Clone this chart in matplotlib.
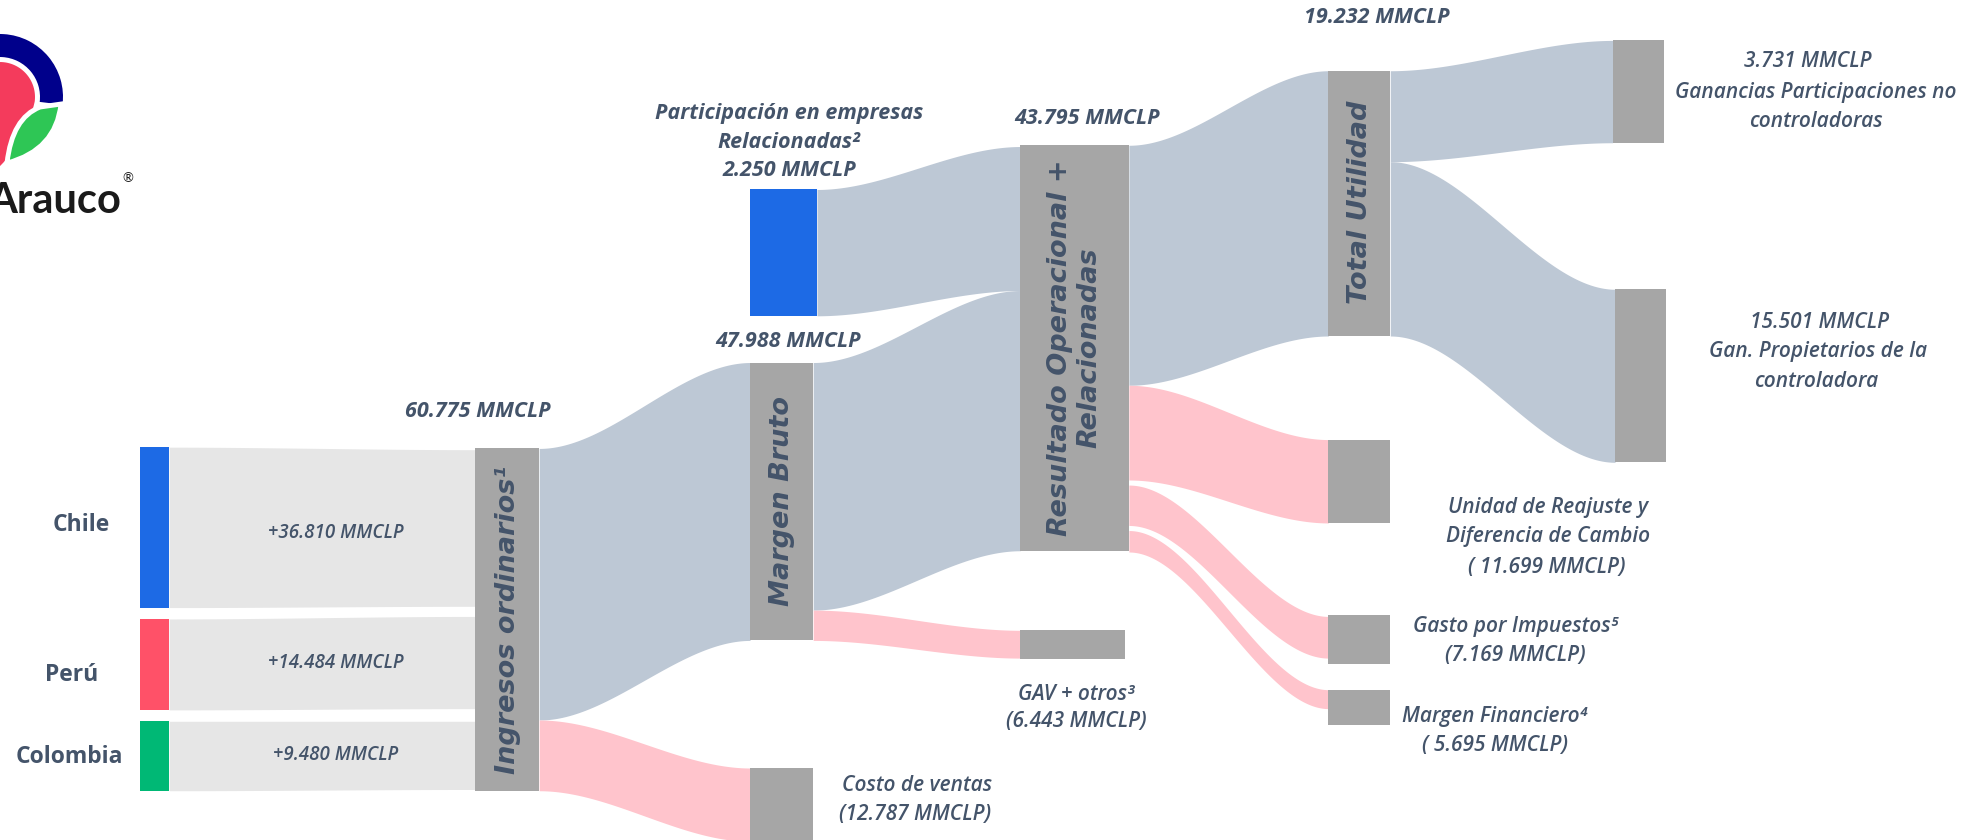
import matplotlib.pyplot as plt
import numpy as np
from matplotlib.patches import Rectangle, Wedge, PathPatch, Polygon
from matplotlib.path import Path

# ---------------- datos (MMCLP) ----------------
paises = ['Chile', 'Perú', 'Colombia']
ventas_pais = [36810, 14484, 9480]

nodos = ['Ingresos', 'Costo', 'Margen Bruto', 'GAV', 'Participación', 'Resultado',
         'Reajuste', 'Impuestos', 'Financiero', 'Total Utilidad',
         'No controladoras', 'Controladora']
valores = [60775, 12787, 47988, 6443, 2250, 43795,
           11699, 7169, 5695, 19232, 3731, 15501]

flujo_origen = ['Chile', 'Perú', 'Colombia', 'Ingresos', 'Ingresos',
                'Margen Bruto', 'Margen Bruto', 'Participación',
                'Resultado', 'Resultado', 'Resultado', 'Resultado',
                'Total Utilidad', 'Total Utilidad']
flujo_destino = ['Ingresos', 'Ingresos', 'Ingresos', 'Margen Bruto', 'Costo',
                 'Resultado', 'GAV', 'Resultado',
                 'Total Utilidad', 'Reajuste', 'Impuestos', 'Financiero',
                 'No controladoras', 'Controladora']
flujo_tipo = ['pais', 'pais', 'pais', 'gan', 'gasto',
              'gan', 'gasto', 'gan',
              'gan', 'gasto', 'gasto', 'gasto',
              'gan', 'gan']

valor = dict(zip(nodos, valores))
valor.update(zip(paises, ventas_pais))


def fmt(v):
    return f'{v:,}'.replace(',', '.')


# ---------------- estilo ----------------
TXT = '#44546A'
GRIS = '#A6A6A6'
COL_NODO = {'Chile': '#1D6AE5', 'Perú': '#FF5168', 'Colombia': '#00B875',
            'Participación': '#1D6AE5'}
COL_FLUJO = {'pais': '#E6E6E6', 'gan': '#BDC8D5', 'gasto': '#FFC4CC'}

# layout in px of a 1568x665 frame (y downwards): x0, x1, y0, y1
caja = {
    'Chile': (111, 134, 354, 481),
    'Perú': (111, 134, 490, 562),
    'Colombia': (111, 134, 571, 626),
    'Ingresos': (376, 427, 355, 626),
    'Participación': (594, 647, 150, 250),
    'Margen Bruto': (594, 644, 287, 507),
    'Costo': (594, 644, 608, 680),
    'Resultado': (808, 894, 115, 436),
    'GAV': (808, 891, 499, 522),
    'Total Utilidad': (1052, 1101, 56, 266),
    'Reajuste': (1052, 1101, 348, 414),
    'Impuestos': (1052, 1101, 487, 526),
    'Financiero': (1052, 1101, 546, 574),
    'No controladoras': (1277, 1318, 32, 113),
    'Controladora': (1279, 1319, 229, 366),
}
# band ends: (y0, y1) at the source, (y0, y1) at the target
anclas = [
    (354, 481, 356, 480),
    (490, 562, 488, 561),
    (571, 626, 571, 625),
    (355, 570, 287, 507),
    (570, 626, 608, 666),
    (287, 483, 230, 436),
    (483, 507, 499, 521),
    (150, 250, 116, 230),
    (115, 305, 56, 266),
    (305, 380, 348, 414),
    (384, 416, 488, 521),
    (420, 437, 546, 561),
    (56, 128, 32, 113),
    (128, 266, 229, 366),
]

fig = plt.figure(figsize=(19.8, 8.4), dpi=100)
ax = fig.add_axes([0, 0, 1, 1])
ax.set_xlim(0, 1568)
ax.set_ylim(665, 0)
ax.axis('off')


def banda(xa, xb, ya0, ya1, yb0, yb1, color):
    t = np.linspace(0, 1, 120)
    s = t * t * (3 - 2 * t)
    x = xa + (xb - xa) * t
    ax.fill_between(x, ya0 + (yb0 - ya0) * s, ya1 + (yb1 - ya1) * s,
                    color=color, lw=0, zorder=1)


for src, dst, tipo, (a0, a1, b0, b1) in zip(flujo_origen, flujo_destino, flujo_tipo, anclas):
    banda(caja[src][1], caja[dst][0], a0, a1, b0, b1, COL_FLUJO[tipo])

for n, (x0, x1, y0, y1) in caja.items():
    ax.add_patch(Rectangle((x0, y0), x1 - x0, y1 - y0, color=COL_NODO.get(n, GRIS),
                           lw=0, zorder=2))

# ---------------- textos ----------------
F_OS = ['Open Sans', 'DejaVu Sans']
kw_top = dict(family=F_OS, fontsize=15.5, weight='bold', style='italic', color=TXT,
              ha='center', va='center', zorder=3)
kw_lab = dict(family=F_OS, fontsize=15, weight='semibold', style='italic', color=TXT,
              ha='center', va='center', zorder=3)
kw_rot = dict(family='DejaVu Sans', fontsize=19.5, weight='bold', style='italic', color=TXT,
              ha='center', va='center', rotation=90, zorder=3)

# countries and their flows
for p, (ty, ly), lx in zip(paises, [(416, 422), (534, 525), (599, 598)], [64, 57, 55]):
    ax.text(lx, ty, p, family=F_OS, fontsize=16.5, weight='bold', color=TXT,
            ha='center', va='center')
    ax.text(266, ly, f'+{fmt(valor[p])} MMCLP', family=F_OS, fontsize=13.5,
            weight='semibold', style='italic', color=TXT, ha='center', va='center',
            zorder=3)

ax.text(378, 326, f"{fmt(valor['Ingresos'])} MMCLP", **kw_top)
ax.text(624, 270, f"{fmt(valor['Margen Bruto'])} MMCLP", **kw_top)
ax.text(625, 90, 'Participación en empresas', **kw_top)
ax.text(625, 113, 'Relacionadas²', **kw_top)
ax.text(625, 135, f"{fmt(valor['Participación'])} MMCLP", **kw_top)
ax.text(861, 94, f"{fmt(valor['Resultado'])} MMCLP", **kw_top)
ax.text(1090, 14, f"{fmt(valor['Total Utilidad'])} MMCLP", **kw_top)

ax.text(1432, 49, f"{fmt(valor['No controladoras'])} MMCLP", **kw_lab)
ax.text(1438, 73, 'Ganancias Participaciones no', **kw_lab)
ax.text(1438, 96, 'controladoras', **kw_lab)
ax.text(1441, 255, f"{fmt(valor['Controladora'])} MMCLP", **kw_lab)
ax.text(1440, 278, 'Gan. Propietarios de la', **kw_lab)
ax.text(1438, 302, 'controladora', **kw_lab)
ax.text(1226, 402, 'Unidad de Reajuste y', **kw_lab)
ax.text(1226, 425, 'Diferencia de Cambio', **kw_lab)
ax.text(1225, 449, f"( {fmt(valor['Reajuste'])} MMCLP)", **kw_lab)
ax.text(1200, 496, 'Gasto por Impuestos⁵', **kw_lab)
ax.text(1200, 519, f"({fmt(valor['Impuestos'])} MMCLP)", **kw_lab)
ax.text(1184, 567, 'Margen Financiero⁴', **kw_lab)
ax.text(1184, 590, f"( {fmt(valor['Financiero'])} MMCLP)", **kw_lab)
ax.text(852, 550, 'GAV + otros³', **kw_lab)
ax.text(852, 571, f"({fmt(valor['GAV'])} MMCLP)", **kw_lab)
ax.text(726, 622, 'Costo de ventas', **kw_lab)
ax.text(725, 645, f"({fmt(valor['Costo'])} MMCLP)", **kw_lab)

ax.text(402, 491, 'Ingresos ordinarios¹', **kw_rot)
ax.text(619, 397, 'Margen Bruto', **kw_rot)
ax.text(851, 275, 'Resultado Operacional +\nRelacionadas', linespacing=1.15,
        multialignment='center', **kw_rot)
ax.text(1077, 160, 'Total Utilidad', **kw_rot)

# ---------------- logo ----------------
S = 1980 / 1568


def px(x, y):
    return (x / S, y / S)


ax.add_patch(Wedge(px(0, 97), 63 / S, 180, 367, width=23 / S, color='#00008B', lw=0))
a = np.radians(np.linspace(180, -8, 60))
arco = [px(35 * np.cos(t), 97 - 35 * np.sin(t)) for t in a]
tt = np.linspace(0, 1, 30)
p0, p1, p2 = np.array([34.6, 102]), np.array([26, 140]), np.array([0, 166])
curva = [px(*((1 - u) ** 2 * p0 + 2 * u * (1 - u) * p1 + u ** 2 * p2)) for u in tt]
ax.add_patch(Polygon(arco + curva + [px(-35, 166)], closed=True, color='#F43B5C', lw=0))
hoja = Path([px(7, 163), px(12, 118), px(40, 107), px(61, 104), px(56, 150), px(7, 163)],
            [Path.MOVETO, Path.CURVE3, Path.CURVE3, Path.LINETO, Path.CURVE3, Path.CURVE3])
ax.add_patch(PathPatch(hoja, facecolor='#2EC655', edgecolor='white', lw=3.5))
ax.text(*px(-12, 213), 'Arauco', family=['Lato', 'DejaVu Sans'], fontsize=30,
        weight='bold', color='#1A1A1A', ha='left', va='baseline')
ax.text(*px(128, 178), '®', family=['Lato', 'DejaVu Sans'], fontsize=9.5,
        color='#1A1A1A', ha='center', va='center')

fig.savefig('out.png', dpi=100)
